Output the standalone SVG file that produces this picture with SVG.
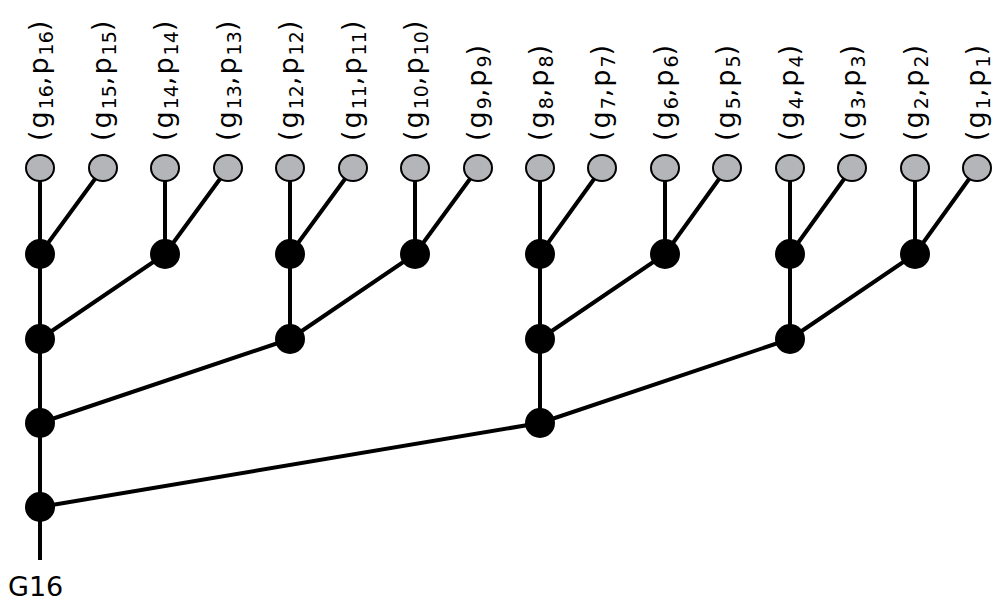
<svg xmlns="http://www.w3.org/2000/svg" width="1003" height="605" viewBox="0 0 1003 605">
<style>
.e{stroke:#000;stroke-width:4;fill:none}
.leaf{fill:#b3b5b8;stroke:#000;stroke-width:2}
.dot{fill:#000}
text{font-family:"DejaVu Sans",Verdana,sans-serif;font-size:27px;fill:#000}
.lb{letter-spacing:2px}
.s{font-size:19px;letter-spacing:0}
</style>
<rect width="1003" height="605" fill="#fff"/>
<g id="connectors">
<path class="e" d="M40,168V560 M103,168L40,254 M165,168V254 M228,168L165,254 M290,168V339 M353,168L290,254 M415,168V254 M478,168L415,254 M540,168V423 M602,168L540,254 M665,168V254 M727,168L665,254 M790,168V339 M852,168L790,254 M915,168V254 M977,168L915,254 M165,254L40,339 M415,254L290,339 M665,254L540,339 M915,254L790,339 M290,339L40,423 M790,339L540,423 M540,423L40,507"/>
</g>
<g id="leaves">
<g id="l16"><ellipse class="leaf" cx="40" cy="168" rx="14" ry="13"/><text class="lb" transform="translate(48,141) rotate(-90)">(g<tspan class="s" dy="5">16</tspan><tspan dy="-5">,p</tspan><tspan class="s" dy="5">16</tspan><tspan dy="-5">)</tspan></text></g>
<g id="l15"><ellipse class="leaf" cx="103" cy="168" rx="14" ry="13"/><text class="lb" transform="translate(111,141) rotate(-90)">(g<tspan class="s" dy="5">15</tspan><tspan dy="-5">,p</tspan><tspan class="s" dy="5">15</tspan><tspan dy="-5">)</tspan></text></g>
<g id="l14"><ellipse class="leaf" cx="165" cy="168" rx="14" ry="13"/><text class="lb" transform="translate(173,141) rotate(-90)">(g<tspan class="s" dy="5">14</tspan><tspan dy="-5">,p</tspan><tspan class="s" dy="5">14</tspan><tspan dy="-5">)</tspan></text></g>
<g id="l13"><ellipse class="leaf" cx="228" cy="168" rx="14" ry="13"/><text class="lb" transform="translate(236,141) rotate(-90)">(g<tspan class="s" dy="5">13</tspan><tspan dy="-5">,p</tspan><tspan class="s" dy="5">13</tspan><tspan dy="-5">)</tspan></text></g>
<g id="l12"><ellipse class="leaf" cx="290" cy="168" rx="14" ry="13"/><text class="lb" transform="translate(298,141) rotate(-90)">(g<tspan class="s" dy="5">12</tspan><tspan dy="-5">,p</tspan><tspan class="s" dy="5">12</tspan><tspan dy="-5">)</tspan></text></g>
<g id="l11"><ellipse class="leaf" cx="353" cy="168" rx="14" ry="13"/><text class="lb" transform="translate(361,141) rotate(-90)">(g<tspan class="s" dy="5">11</tspan><tspan dy="-5">,p</tspan><tspan class="s" dy="5">11</tspan><tspan dy="-5">)</tspan></text></g>
<g id="l10"><ellipse class="leaf" cx="415" cy="168" rx="14" ry="13"/><text class="lb" transform="translate(423,141) rotate(-90)">(g<tspan class="s" dy="5">10</tspan><tspan dy="-5">,p</tspan><tspan class="s" dy="5">10</tspan><tspan dy="-5">)</tspan></text></g>
<g id="l9"><ellipse class="leaf" cx="478" cy="168" rx="14" ry="13"/><text class="lb" transform="translate(486,141) rotate(-90)">(g<tspan class="s" dy="5">9</tspan><tspan dy="-5">,p</tspan><tspan class="s" dy="5">9</tspan><tspan dy="-5">)</tspan></text></g>
<g id="l8"><ellipse class="leaf" cx="540" cy="168" rx="14" ry="13"/><text class="lb" transform="translate(548,141) rotate(-90)">(g<tspan class="s" dy="5">8</tspan><tspan dy="-5">,p</tspan><tspan class="s" dy="5">8</tspan><tspan dy="-5">)</tspan></text></g>
<g id="l7"><ellipse class="leaf" cx="602" cy="168" rx="14" ry="13"/><text class="lb" transform="translate(610,141) rotate(-90)">(g<tspan class="s" dy="5">7</tspan><tspan dy="-5">,p</tspan><tspan class="s" dy="5">7</tspan><tspan dy="-5">)</tspan></text></g>
<g id="l6"><ellipse class="leaf" cx="665" cy="168" rx="14" ry="13"/><text class="lb" transform="translate(673,141) rotate(-90)">(g<tspan class="s" dy="5">6</tspan><tspan dy="-5">,p</tspan><tspan class="s" dy="5">6</tspan><tspan dy="-5">)</tspan></text></g>
<g id="l5"><ellipse class="leaf" cx="727" cy="168" rx="14" ry="13"/><text class="lb" transform="translate(735,141) rotate(-90)">(g<tspan class="s" dy="5">5</tspan><tspan dy="-5">,p</tspan><tspan class="s" dy="5">5</tspan><tspan dy="-5">)</tspan></text></g>
<g id="l4"><ellipse class="leaf" cx="790" cy="168" rx="14" ry="13"/><text class="lb" transform="translate(798,141) rotate(-90)">(g<tspan class="s" dy="5">4</tspan><tspan dy="-5">,p</tspan><tspan class="s" dy="5">4</tspan><tspan dy="-5">)</tspan></text></g>
<g id="l3"><ellipse class="leaf" cx="852" cy="168" rx="14" ry="13"/><text class="lb" transform="translate(860,141) rotate(-90)">(g<tspan class="s" dy="5">3</tspan><tspan dy="-5">,p</tspan><tspan class="s" dy="5">3</tspan><tspan dy="-5">)</tspan></text></g>
<g id="l2"><ellipse class="leaf" cx="915" cy="168" rx="14" ry="13"/><text class="lb" transform="translate(923,141) rotate(-90)">(g<tspan class="s" dy="5">2</tspan><tspan dy="-5">,p</tspan><tspan class="s" dy="5">2</tspan><tspan dy="-5">)</tspan></text></g>
<g id="l1"><ellipse class="leaf" cx="977" cy="168" rx="14" ry="13"/><text class="lb" transform="translate(985,141) rotate(-90)">(g<tspan class="s" dy="5">1</tspan><tspan dy="-5">,p</tspan><tspan class="s" dy="5">1</tspan><tspan dy="-5">)</tspan></text></g>
</g>
<g id="nodes">
<circle class="dot" cx="40" cy="254" r="15"/><circle class="dot" cx="165" cy="254" r="15"/><circle class="dot" cx="290" cy="254" r="15"/><circle class="dot" cx="415" cy="254" r="15"/>
<circle class="dot" cx="540" cy="254" r="15"/><circle class="dot" cx="665" cy="254" r="15"/><circle class="dot" cx="790" cy="254" r="15"/><circle class="dot" cx="915" cy="254" r="15"/>
<circle class="dot" cx="40" cy="339" r="15"/><circle class="dot" cx="290" cy="339" r="15"/><circle class="dot" cx="540" cy="339" r="15"/><circle class="dot" cx="790" cy="339" r="15"/>
<circle class="dot" cx="40" cy="423" r="15"/><circle class="dot" cx="540" cy="423" r="15"/>
<circle class="dot" cx="40" cy="507" r="15"/>
</g>
<g id="output"><text x="8" y="596">G16</text></g>
</svg>
